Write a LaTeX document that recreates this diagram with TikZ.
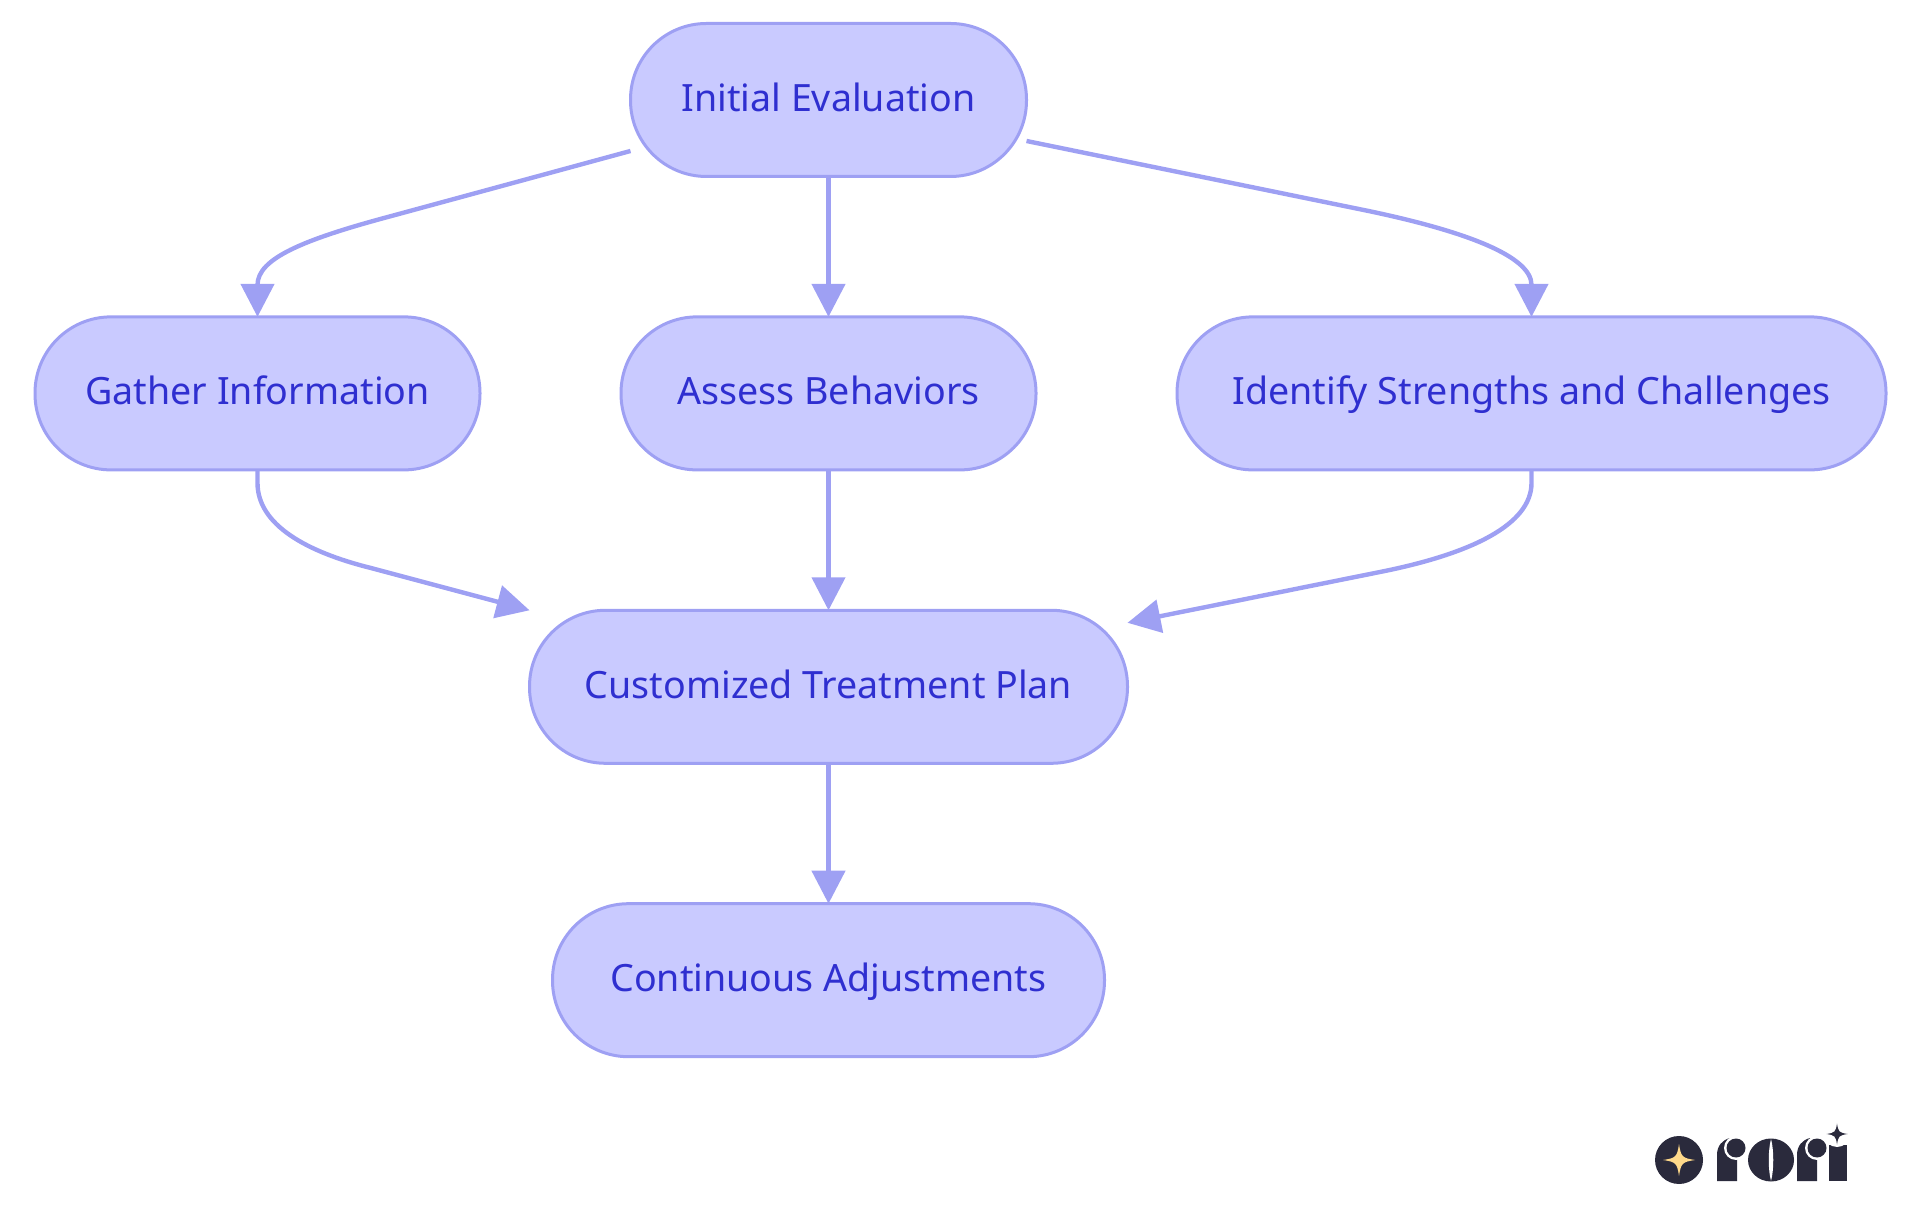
\documentclass[tikz,border=0pt]{standalone}
\usepackage{fontspec}
\setmainfont{Noto Sans}
\usetikzlibrary{arrows.meta, positioning}
\definecolor{boxfill}{HTML}{C9CAFF}
\definecolor{boxline}{HTML}{9EA0F3}
\definecolor{boxtext}{HTML}{2F2FD0}
\definecolor{logodark}{HTML}{2A2A3C}
\definecolor{logostar}{HTML}{FFD98A}
\newcommand{\sparkle}[4]{\fill[#4] (#1-#3,#2) .. controls (#1-0.2*#3,#2-0.12*#3) and (#1-0.12*#3,#2-0.2*#3) .. (#1,#2-#3) .. controls (#1+0.12*#3,#2-0.2*#3) and (#1+0.2*#3,#2-0.12*#3) .. (#1+#3,#2) .. controls (#1+0.2*#3,#2+0.12*#3) and (#1+0.12*#3,#2+0.2*#3) .. (#1,#2+#3) .. controls (#1-0.12*#3,#2+0.2*#3) and (#1-0.2*#3,#2+0.12*#3) .. (#1-#3,#2) -- cycle;}

\begin{document}
\begin{tikzpicture}[
    node distance=70.2pt and 70.5pt,
    block/.style={draw=boxline, fill=boxfill, line width=1.5pt, rounded corners=38pt,
                  minimum height=76.5pt, outer sep=0pt, inner sep=0pt,
                  text height=15.2pt, text depth=3.8pt,
                  text=boxtext, font=\fontsize{18.8}{22}\selectfont},
    arrow/.style={-{Triangle[length=16.5pt, width=16.5pt]}, line width=2.2pt, draw=boxline},
]
    \useasboundingbox (0,0) rectangle (960pt,607.5pt);

    % Top
    \node[block, minimum width=198pt] (initial) at (414.25pt,557.5pt) {Initial Evaluation};

    % Three steps
    \node[block, minimum width=207.5pt, below=of initial]  (assess) {Assess Behaviors};
    \node[block, minimum width=222.5pt, left=of assess]    (gather) {Gather Information};
    \node[block, minimum width=354.5pt, right=of assess]   (identify) {Identify Strengths and Challenges};

    % Plan
    \node[block, minimum width=299pt, below=of assess] (plan) {Customized Treatment Plan};
    \node[block, minimum width=276pt, below=of plan]   (adjust) {Continuous Adjustments};

    % Arrows
    \draw[arrow] (initial) -- (assess);
    \draw[arrow] (assess) -- (plan);
    \draw[arrow] (plan) -- (adjust);
    \draw[arrow] ([yshift=-25.5pt]initial.west) -- ++(-119.5pt,-32.5pt)
        .. controls +(-45pt,-12pt) and +(0pt,29pt) .. (gather.north);
    \draw[arrow] ([yshift=-20.5pt]initial.east) -- ++(171pt,-35pt)
        .. controls +(50pt,-10.5pt) and +(0pt,30pt) .. (identify.north);
    \draw[arrow] (gather.south) -- ++(0,-6.5pt)
        .. controls +(0,-21pt) and +(-32pt,8pt) .. ++(56.5pt,-42.5pt) -- (plan.north west);
    \draw[arrow] (identify.south) -- ++(0,-6.5pt)
        .. controls +(0,-21pt) and +(45pt,9pt) .. ++(-75.5pt,-44.5pt) -- ([yshift=32pt]plan.east);

    % Logo
    \begin{scope}[shift={(0,607.5pt)}, x=0.5pt, y=-0.5pt]
        \fill[logodark] (1679,1160) circle [radius=24];
        \sparkle{1679}{1160}{16}{logostar}
        \fill[logodark] (1717,1181) -- (1717,1155) .. controls (1717,1146) and (1722,1140) .. (1730,1138) -- (1737,1150) -- (1737,1181) -- cycle;
        \fill[white] (1736,1148) circle [radius=12];
        \fill[logodark] (1736,1148) circle [radius=9.5];
        \fill[logodark] (1771,1160) ellipse [x radius=23, y radius=21.5];
        \fill[white] (1771,1139) .. controls (1768,1150) and (1768,1170) .. (1771,1181) .. controls (1774,1170) and (1774,1150) .. (1771,1139) -- cycle;
        \fill[logodark] (1797,1181) -- (1797,1155) .. controls (1797,1146) and (1802,1140) .. (1810,1138) -- (1817,1150) -- (1817,1181) -- cycle;
        \fill[white] (1817,1148) circle [radius=12];
        \fill[logodark] (1817,1148) circle [radius=9.5];
        \fill[logodark] (1829,1181) rectangle (1847,1145);
        \fill[white] (1837,1134) circle [radius=13];
        \sparkle{1837}{1134}{10.5}{logodark}
    \end{scope}
\end{tikzpicture}
\end{document}
